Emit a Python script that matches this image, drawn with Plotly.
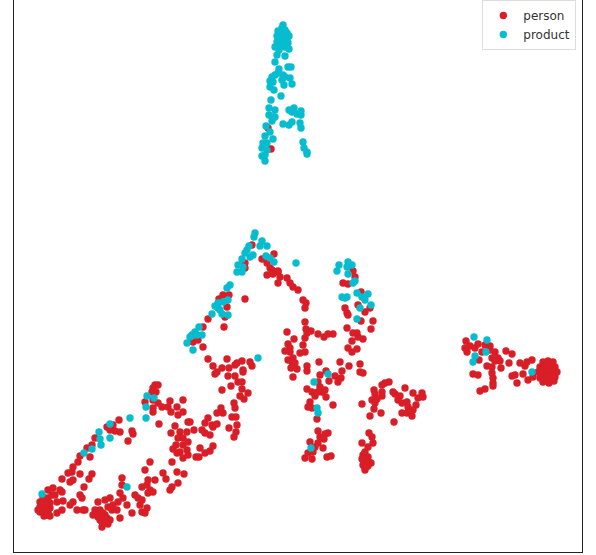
import plotly.graph_objects as go

person_points = [
    (268,128),(271,149),
    (158,385),(155,385),(153,388),(152,392),(156,392),(145,402),(153,400),(158,403),(153,408),(153,412),(162,407),(170,401),(183,400),(168,407),(177,407),(171,412),(183,412),(178,415),(159,424),(188,422),(175,426),(180,432),(187,432),(171,433),(178,438),(183,438),(188,442),(176,445),(183,445),(173,449),(180,452),(187,450),(188,455),(177,453),(183,458),(172,462),(177,472),(184,474),(163,473),(166,479),(178,483),(172,487),(170,490),
    (119,420),(107,427),(113,425),(115,431),(120,432),(132,431),(133,434),(128,441),(110,430),(95,438),(92,445),(87,448),(90,457),(80,456),(78,462),(73,467),(72,472),(68,473),(80,474),(62,479),(70,482),(73,480),(92,474),(89,479),(84,487),(60,490),(53,488),(48,490),(48,498),(62,492),(43,497),(40,502),(45,502),(50,503),(40,507),(45,507),(50,508),(40,512),(43,512),(48,512),(44,516),(57,502),(63,501),(62,510),(57,513),(70,505),(73,502),(80,495),(82,498),(77,510),(83,510),(85,510),
    (47,505),(42,505),(52,495),(55,495),(46,515),(50,516),(38,510),
    (150,462),(145,470),(122,478),(122,485),(148,480),(155,480),(147,485),(142,487),(150,490),(153,492),(135,495),(148,493),(138,498),(142,500),(120,493),(123,498),(110,498),(105,500),(98,502),(108,507),(113,505),(118,502),(127,505),(95,510),(100,510),(93,515),(98,517),(105,515),(112,510),(117,510),(102,522),(108,524),(102,527),(120,518),(132,513),(140,505),(147,508),(142,512),(145,513),
    (100,520),(104,518),(107,518),(97,513),(110,520),(103,513),
    (215,374),(217,372),(228,376),(235,376),(243,372),(231,386),(238,382),(242,382),(242,389),(248,393),(240,396),(244,399),(222,390),(234,403),(235,408),(232,417),(236,417),(237,425),(229,428),(236,432),(234,437),(221,408),(217,413),(223,413),(208,418),(205,423),(212,425),(202,430),(205,433),(210,435),(213,427),(217,424),(190,422),(194,430),(196,457),(199,457),(200,448),(205,453),(210,451),(213,446),
    (252,245),(245,263),(245,268),(274,254),(262,259),(267,263),(270,268),(267,275),(272,273),(278,271),(245,299),(223,295),(229,295),(219,299),(227,307),(225,317),(208,319),(224,327),(203,327),(193,342),(198,340),(203,347),(208,359),(213,366),(222,368),(227,359),(229,368),(235,365),(237,363),(242,361),(243,370),(250,362),(252,366),
    (272,270),(278,272),(273,274),(280,277),(287,278),(278,283),(290,283),(293,287),(298,290),(303,300),(306,303),(305,308),(305,322),(306,329),(311,331),(307,333),(305,338),(318,334),(324,337),(328,334),(333,334),(287,332),(294,339),(288,344),(303,345),(290,348),(285,351),(290,352),(300,353),(305,352),(288,360),(293,358),(292,362),(295,363),(291,368),(297,369),(293,377),(307,366),(307,371),(319,362),(340,362),(349,366),(342,371),(326,371),(320,375),(335,376),(341,378),(338,382),(329,381),(318,382),(320,387),(307,389),(312,392),(315,396),(322,392),(325,390),(318,392),(326,397),(310,402),(308,407),(312,408),(333,405),(317,419),(318,431),(328,433),(325,434),(320,437),(324,439),(318,443),(310,442),(315,447),(323,448),(313,452),(308,453),(305,458),(312,459),(327,457),(331,456),
    (353,271),(355,277),(343,283),(348,284),(361,292),(358,305),(365,312),(370,308),(345,308),(347,313),(348,315),(361,321),(373,321),(371,329),(347,328),(353,333),(357,333),(358,337),(363,339),(352,341),(348,348),(352,352),(357,349),(360,364),(360,372),(363,373),
    (389,382),(385,383),(382,385),(374,390),(382,392),(375,394),(382,396),(372,400),(377,399),(375,403),(374,409),(381,413),(370,416),(362,404),(394,422),(405,388),(393,392),(395,394),(400,396),(413,393),(398,400),(407,402),(402,403),(408,407),(416,405),(422,393),(418,398),(423,397),(402,413),(407,413),(412,416),(413,410),
    (369,433),(372,437),(362,443),(373,443),(368,447),(363,455),(368,457),(362,459),(367,461),(371,463),(363,465),(368,466),(365,470),
    (365,452),(366,463),(369,462),(365,468),
    (466,341),(470,346),(465,348),(467,352),(478,344),(475,348),(485,345),(490,346),(482,352),(490,350),(495,352),(479,360),(492,358),(498,358),(495,361),(500,361),(506,351),(512,354),(509,363),(520,363),(527,362),(532,360),(525,366),(487,366),(492,367),(501,368),(492,373),(473,374),(478,375),(512,376),(515,375),(517,383),(523,374),(493,378),(493,383),(493,386),(485,389),(480,391),(528,380),(533,377),
    (540,378),(543,362),(548,361),(553,362),(540,367),(545,367),(550,367),(555,367),(538,372),(543,372),(548,372),(553,372),(557,372),(545,377),(550,377),(555,377),(543,382),(549,383),(554,381),
]

product_points = [
    (283,25),(282,28),(278,31),(285,30),(282,33),(287,33),(277,36),(283,37),(289,36),(280,39),(287,39),(277,42),(283,42),(288,43),(275,47),(280,45),(285,47),(289,49),(279,50),(277,55),(285,56),(275,62),(288,67),(291,67),(279,69),(275,75),(272,77),(270,81),(278,73),(283,75),(285,77),(290,78),(273,82),(282,80),(270,87),(274,90),(284,85),(292,84),(271,100),(281,96),(269,108),(275,110),(269,115),(273,117),(275,117),(272,121),(289,110),(294,108),(292,112),(297,114),(301,111),(301,115),(283,124),(289,125),(292,122),(300,123),(301,128),(266,126),(270,132),(265,136),(273,139),(263,143),(267,143),(262,148),(267,150),(265,155),(262,156),(265,161),(303,142),(304,148),(307,154),(307,152),
    (147,396),(154,398),(146,407),(146,418),(130,418),(110,424),(99,432),(100,439),(110,438),(101,445),(92,449),(84,453),(42,494),(127,487),
    (255,233),(254,237),(262,241),(260,246),(267,246),(249,246),(247,250),(245,253),(250,257),(242,259),(253,255),(238,265),(243,267),(237,272),(242,272),(266,256),(270,258),(274,262),(296,263),(230,285),(227,288),(228,300),(223,302),(218,303),(215,306),(218,308),(212,314),(222,314),(228,315),(220,310),(199,327),(195,332),(192,335),(202,335),(197,335),(190,337),(187,343),(193,350),(258,358),
    (348,262),(339,265),(352,265),(347,267),(337,271),(348,274),(355,281),(353,283),(357,293),(368,294),(362,297),(365,300),(342,297),(347,297),(345,298),(371,305),(360,308),(357,319),(328,374),(314,382),(317,408),(318,413),(311,448),
    (474,337),(487,340),(475,356),(486,352),(473,362),(532,372),
]

person_x = [p[0] for p in person_points]
person_y = [p[1] for p in person_points]
product_x = [p[0] for p in product_points]
product_y = [p[1] for p in product_points]

fig = go.Figure()
fig.add_trace(go.Scatter(x=person_x, y=person_y, mode="markers", name="person",
                         marker=dict(color="#d91e27", size=7.4, line=dict(width=0))))
fig.add_trace(go.Scatter(x=product_x, y=product_y, mode="markers", name="product",
                         marker=dict(color="#06bccf", size=7.4, line=dict(width=0))))

fig.update_layout(
    width=596, height=555,
    margin=dict(l=14, r=14, t=0, b=3, autoexpand=False),
    paper_bgcolor="white", plot_bgcolor="white",
    showlegend=True,
    legend=dict(x=0.99, y=1.0, xanchor="right", yanchor="top",
                bgcolor="rgba(255,255,255,0.8)", bordercolor="#dddddd", borderwidth=1,
                font=dict(family="DejaVu Sans", size=12, color="#333333"),
                itemwidth=30, tracegroupgap=0),
    xaxis=dict(range=[14, 582], showgrid=False, zeroline=False, showticklabels=False,
               ticks="", showline=True, linecolor="#222222", linewidth=1.3),
    yaxis=dict(range=[552, 0], showgrid=False, zeroline=False, showticklabels=False,
               ticks="", showline=True, mirror=True, linecolor="#222222", linewidth=1.3),
)
fig.write_html("out.html", post_script="document.body.style.margin='0';", config={"displayModeBar": False})
